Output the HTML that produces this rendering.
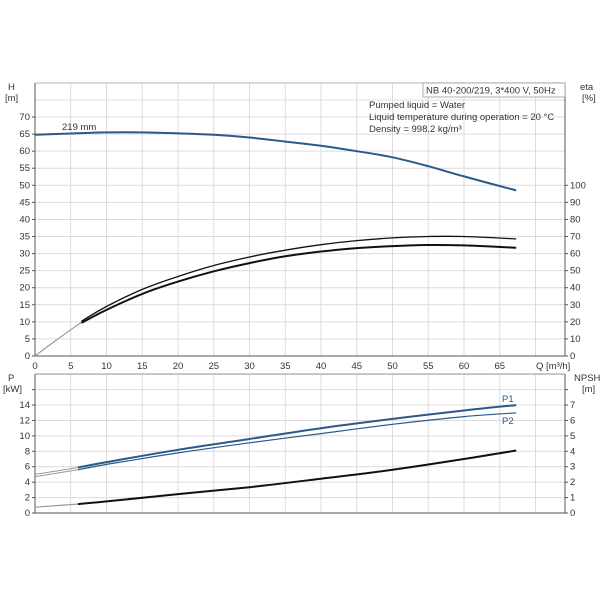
<!DOCTYPE html>
<html><head><meta charset="utf-8"><style>
html,body{margin:0;padding:0;background:#fff}
svg{display:block;font-family:"Liberation Sans",sans-serif;font-size:9.5px;fill:#333}
</style></head><body>
<svg id="s" width="603" height="603" xmlns="http://www.w3.org/2000/svg"></svg>
<script>
var s=document.getElementById('s'),h='';
var X=q=>35+q*7.15, YH=v=>356-v*3.414, YP=v=>513-v*7.71;
function line(x1,y1,x2,y2,c,w){h+=`<line x1="${x1}" y1="${y1}" x2="${x2}" y2="${y2}" stroke="${c}" stroke-width="${w||1}"/>`;}
function txt(x,y,t,a,c){h+=`<text x="${x}" y="${y}" text-anchor="${a||'start'}" ${c?`style="fill:${c}"`:''}>${t}</text>`;}
for(var v=0;v<=80;v+=5) line(35,YH(v),565,YH(v),'#dcdcdc');
for(var q=0;q<=70;q+=5) line(X(q),83,X(q),356,'#dcdcdc');
for(var v=0;v<=18;v+=2) line(35,YP(v),565,YP(v),'#dcdcdc');
for(var q=0;q<=70;q+=5) line(X(q),374,X(q),513,'#dcdcdc');
line(35,83,35,356,'#555');line(35,356,565,356,'#555');line(565,83,565,356,'#555');
line(35,374,35,513,'#555');line(35,513,565,513,'#555');line(565,374,565,513,'#555');
line(35,83,565,83,'#bbb');line(35,374,565,374,'#999');
for(var v=0;v<=70;v+=5){txt(30,YH(v)+3,v,'end');line(32,YH(v),35,YH(v),'#555');}
for(var v=0;v<=100;v+=10){txt(570,YH(v/2)+3,v);line(565,YH(v/2),568,YH(v/2),'#555');}
for(var q=0;q<=65;q+=5) txt(X(q),369,q,'middle');
txt(536,369,'Q [m³/h]');
for(var v=0;v<=14;v+=2){txt(30,YP(v)+3,v,'end');line(32,YP(v),35,YP(v),'#555');}
line(32,YP(16),35,YP(16),'#555');
for(var v=0;v<=7;v++){txt(570,YP(v*2)+3,v);line(565,YP(v*2),568,YP(v*2),'#555');}
line(565,YP(16),568,YP(16),'#555');
txt(8,90,'H');txt(5,101,'[m]');txt(580,90,'eta');txt(582,101,'[%]');
txt(8,381,'P');txt(3,392,'[kW]');txt(574,381,'NPSH');txt(582,392,'[m]');
h+=`<rect x="423" y="83" width="142" height="14" fill="#fff" stroke="#999" stroke-width="0.8"/>`;
txt(426,93.5,'NB 40-200/219, 3*400 V, 50Hz');
txt(369,108,'Pumped liquid = Water');
txt(369,120,'Liquid temperature during operation = 20 °C');
txt(369,132,'Density = 998.2 kg/m³');
txt(62,130,'219 mm');
txt(502,402,'P1','start','#2a5a8a');txt(502,424,'P2','start','#2a5a8a');
function path(pts,Y,c,w){
 var P=pts.map(p=>[X(p[0]),Y(p[1])]);
 var d='M'+P[0][0].toFixed(1)+','+P[0][1].toFixed(1);
 for(var i=0;i<P.length-1;i++){
  var p0=P[i-1]||P[i],p1=P[i],p2=P[i+1],p3=P[i+2]||P[i+1];
  var c1=[p1[0]+(p2[0]-p0[0])/6,p1[1]+(p2[1]-p0[1])/6],c2=[p2[0]-(p3[0]-p1[0])/6,p2[1]-(p3[1]-p1[1])/6];
  d+=`C${c1[0].toFixed(1)},${c1[1].toFixed(1)} ${c2[0].toFixed(1)},${c2[1].toFixed(1)} ${p2[0].toFixed(1)},${p2[1].toFixed(1)}`;
 }
 h+=`<path d="${d}" fill="none" stroke="${c}" stroke-width="${w}" stroke-linejoin="round"/>`;}
path([[0,64.8],[6.5,65.3],[10,65.5],[15,65.5],[20,65.2],[25,64.8],[30,64],[35,62.8],[40,61.6],[45,60],[50,58.2],[55,55.6],[60,52.6],[67.3,48.5]],YH,'#2a5a8a',2);
path([[0,0],[3,4.7],[6.5,9.9]],YH,'#999',1.2);
path([[6.5,10.2],[10,14.5],[15,19.5],[20,23.3],[25,26.5],[30,29],[35,31],[40,32.6],[45,33.8],[50,34.6],[55,35],[60,35],[67.3,34.3]],YH,'#111',1.3);
path([[6.5,9.7],[10,13.5],[15,18.2],[20,21.8],[25,24.8],[30,27.2],[35,29.2],[40,30.6],[45,31.6],[50,32.2],[55,32.5],[60,32.4],[67.3,31.7]],YH,'#111',2);
path([[0,5],[6,5.9]],YP,'#999',1);path([[0,4.7],[6,5.6]],YP,'#999',1);
path([[6,5.9],[10,6.6],[20,8.2],[30,9.6],[40,11],[50,12.2],[60,13.3],[67.3,14]],YP,'#2a5a8a',2);
path([[6,5.6],[10,6.3],[20,7.8],[30,9.1],[40,10.3],[50,11.5],[60,12.5],[67.3,13]],YP,'#2a5a8a',1.2);
path([[0,0.75],[6,1.15]],YP,'#999',1.2);
path([[6,1.15],[10,1.5],[20,2.45],[30,3.35],[40,4.45],[50,5.6],[60,7],[67.3,8.1]],YP,'#111',2);
s.innerHTML=h;
</script>
</body></html>
